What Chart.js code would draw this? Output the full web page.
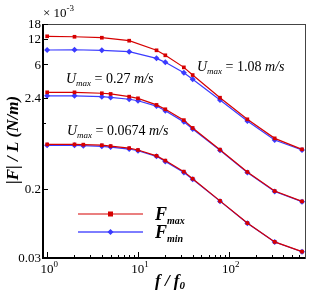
<!DOCTYPE html>
<html lang="en">
<head>
<meta charset="UTF-8">
<title>|F|/L vs f/f0</title>
<script src="https://cdn.jsdelivr.net/npm/chart.js"></script>
<style>
  body { margin: 0; background: #fff; }
  #wrap { width: 332px; height: 296px; }
</style>
</head>
<body>
<div id="wrap"><canvas id="grafica"></canvas></div>
<script>
// frequency ratio f/f0 for each curve
const freqTop = [1, 2, 4, 8, 16, 20, 32, 40, 80, 160, 320, 640];
const freqMid = [1, 2, 4, 5, 8, 10, 16, 20, 32, 40, 80, 160, 320, 640];
const freqLow = [1, 2, 2.5, 4, 5, 8, 10, 16, 20, 32, 40, 80, 160, 320, 640];

// |F|/L in units of 1e-3 N/m
const fmaxTop = [12.86, 12.7, 12.37, 11.4, 8.77, 7.65, 5.5, 4.46, 2.4, 1.33, 0.79, 0.585];
const fminTop = [8.84, 8.9, 8.77, 8.44, 7.04, 6.31, 4.75, 3.97, 2.25, 1.27, 0.754, 0.574];
const fmaxMid = [2.78, 2.78, 2.71, 2.66, 2.47, 2.36, 1.97, 1.75, 1.3, 1.05, 0.58, 0.315, 0.187, 0.141];
const fminMid = [2.53, 2.53, 2.47, 2.42, 2.3, 2.21, 1.91, 1.68, 1.24, 1.02, 0.57, 0.31, 0.185, 0.14];
const fmaxLow = [0.67, 0.67, 0.665, 0.655, 0.64, 0.605, 0.575, 0.49, 0.43, 0.318, 0.262, 0.143, 0.078, 0.0466, 0.0357];
const fminLow = [0.653, 0.653, 0.646, 0.635, 0.623, 0.59, 0.563, 0.483, 0.421, 0.31, 0.258, 0.142, 0.0774, 0.0464, 0.0356];

const yTicks = [0.03, 0.2, 1.2, 2.4, 6, 12, 18];
const yTickLabels = ['0.03', '0.2', '', '2.4', '6', '12', '18'];
const xMajor = [1, 10, 100];
const xMajorExp = ['0', '1', '2'];

const ROJO = '#d60000';
const AZUL = '#3b3bff';
const SERIF = '"Liberation Serif", "DejaVu Serif", serif';

function puntos(xs, ys) {
  return xs.map((x, i) => ({ x: x, y: ys[i] }));
}
function serieMax(xs, ys) {
  return { label: 'Fmax', data: puntos(xs, ys), borderColor: ROJO, backgroundColor: ROJO,
    borderWidth: 1.2, pointStyle: 'rect', pointRadius: 2.6, pointBorderWidth: 0 };
}
function serieMin(xs, ys) {
  return { label: 'Fmin', data: puntos(xs, ys), borderColor: AZUL, backgroundColor: AZUL,
    borderWidth: 1.2, pointStyle: 'rectRot', pointRadius: 3, pointBorderWidth: 0 };
}

// draws text made of pieces: [text, font, dy]
function texto(ctx, x, y, trozos) {
  ctx.textAlign = 'left';
  ctx.textBaseline = 'alphabetic';
  trozos.forEach(t => {
    ctx.font = t[1];
    ctx.fillText(t[0], x, y + (t[2] || 0));
    x += ctx.measureText(t[0]).width;
  });
}
function anchoTexto(ctx, trozos) {
  let w = 0;
  trozos.forEach(t => { ctx.font = t[1]; w += ctx.measureText(t[0]).width; });
  return w;
}

const ejes = {
  id: 'ejes',
  afterDraw(chart) {
    const ctx = chart.ctx;
    const a = chart.chartArea;
    const sx = chart.scales.x, sy = chart.scales.y;
    ctx.save();
    ctx.fillStyle = '#000';
    ctx.strokeStyle = '#000';

    // frame
    ctx.lineWidth = 1;
    ctx.strokeStyle = '#444';
    ctx.strokeRect(a.left + 0.5, a.top + 0.5, a.right - a.left, a.bottom - a.top);
    ctx.strokeStyle = '#000';
    ctx.lineWidth = 2;
    ctx.beginPath();
    ctx.moveTo(a.left, a.top);
    ctx.lineTo(a.left, a.bottom);
    ctx.lineTo(a.right, a.bottom);
    ctx.stroke();

    // x ticks
    ctx.lineWidth = 1;
    ctx.beginPath();
    for (let d = 1; d <= 100; d *= 10) {
      for (let k = 1; k <= 9; k++) {
        const v = d * k;
        if (v < sx.min || v > sx.max) continue;
        const px = Math.round(sx.getPixelForValue(v)) + 0.5;
        const len = k === 1 ? 6 : 3;
        ctx.moveTo(px, a.bottom);
        ctx.lineTo(px, a.bottom - len);
      }
    }
    // y ticks
    yTicks.forEach((v, i) => {
      const py = Math.round(sy.getPixelForValue(v)) + 0.5;
      const len = yTickLabels[i] ? 5 : 3;
      ctx.moveTo(a.left, py);
      ctx.lineTo(a.left + len, py);
    });
    ctx.stroke();

    // y tick labels
    ctx.font = '13px ' + SERIF;
    ctx.textAlign = 'right';
    ctx.textBaseline = 'middle';
    yTicks.forEach((v, i) => {
      if (!yTickLabels[i]) return;
      ctx.fillText(yTickLabels[i], a.left - 2, sy.getPixelForValue(v) + 1);
    });

    // x tick labels 10^n
    xMajor.forEach((v, i) => {
      const px = sx.getPixelForValue(v);
      const tr = [['10', '13px ' + SERIF, 0], [xMajorExp[i], '9px ' + SERIF, -6]];
      const w = anchoTexto(ctx, tr);
      texto(ctx, px - w / 2 + 2, a.bottom + 15, tr);
    });

    // multiplier
    texto(ctx, a.left, a.top - 7, [['\u00d7 10', '13px ' + SERIF, 0], ['-3', '9px ' + SERIF, -6]]);

    // axis titles
    const bi = 'bold italic ';
    const tx = [['f', bi + '17px ' + SERIF, 0], [' / ', bi + '17px ' + SERIF, 0], ['f', bi + '17px ' + SERIF, 0], ['0', bi + '11px ' + SERIF, 3]];
    const wx = anchoTexto(ctx, tx);
    texto(ctx, 170 - wx / 2, 286, tx);

    ctx.save();
    ctx.translate(18, 140);
    ctx.rotate(-Math.PI / 2);
    const ty = [['|F| / L (N/m)', bi + '17px ' + SERIF, 0]];
    const wy = anchoTexto(ctx, ty);
    texto(ctx, -wy / 2, 0, ty);
    ctx.restore();

    // annotations
    const it = 'italic 14px ' + SERIF, sub = 'italic 9px ' + SERIF, rm = '14px ' + SERIF;
    texto(ctx, 197, 71, [['U', it, 0], ['max', sub, 3], [' = 1.08 ', rm, 0], ['m/s', it, 0]]);
    texto(ctx, 66, 83, [['U', it, 0], ['max', sub, 3], [' = 0.27 ', rm, 0], ['m/s', it, 0]]);
    texto(ctx, 67, 135, [['U', it, 0], ['max', sub, 3], [' = 0.0674 ', rm, 0], ['m/s', it, 0]]);

    // legend
    const filas = [
      { y: 214, color: ROJO, w: 1.2, sub: 'max', marca: 'rect' },
      { y: 232, color: '#7d7dff', w: 2, sub: 'min', marca: 'rot' }
    ];
    filas.forEach(f => {
      ctx.strokeStyle = f.color;
      ctx.fillStyle = f.color;
      ctx.lineWidth = f.w;
      ctx.beginPath();
      ctx.moveTo(78, f.y);
      ctx.lineTo(143, f.y);
      ctx.stroke();
      ctx.fillStyle = f.marca === 'rect' ? ROJO : AZUL;
      if (f.marca === 'rect') {
        ctx.fillRect(108, f.y - 2.5, 5, 5);
      } else {
        ctx.beginPath();
        ctx.moveTo(110.5, f.y - 3);
        ctx.lineTo(113.5, f.y);
        ctx.lineTo(110.5, f.y + 3);
        ctx.lineTo(107.5, f.y);
        ctx.closePath();
        ctx.fill();
      }
      ctx.fillStyle = '#000';
      texto(ctx, 155, f.y + 6, [['F', 'bold italic 18px ' + SERIF, 0], [f.sub, 'bold italic 10px ' + SERIF, 4]]);
    });

    ctx.restore();
  }
};

new Chart(document.getElementById('grafica'), {
  type: 'line',
  data: {
    datasets: [
      serieMax(freqTop, fmaxTop), serieMin(freqTop, fminTop),
      serieMax(freqMid, fmaxMid), serieMin(freqMid, fminMid),
      serieMax(freqLow, fmaxLow), serieMin(freqLow, fminLow)
    ]
  },
  options: {
    responsive: true,
    maintainAspectRatio: false,
    animation: false,
    layout: { padding: { left: 43, right: 27, top: 24, bottom: 38 } },
    plugins: { legend: { display: false }, tooltip: { enabled: false } },
    elements: { line: { tension: 0 } },
    scales: {
      x: { type: 'logarithmic', min: 0.9, max: 690, display: false },
      y: { type: 'logarithmic', min: 0.03, max: 18, display: false }
    }
  },
  plugins: [ejes]
});
</script>
</body>
</html>
